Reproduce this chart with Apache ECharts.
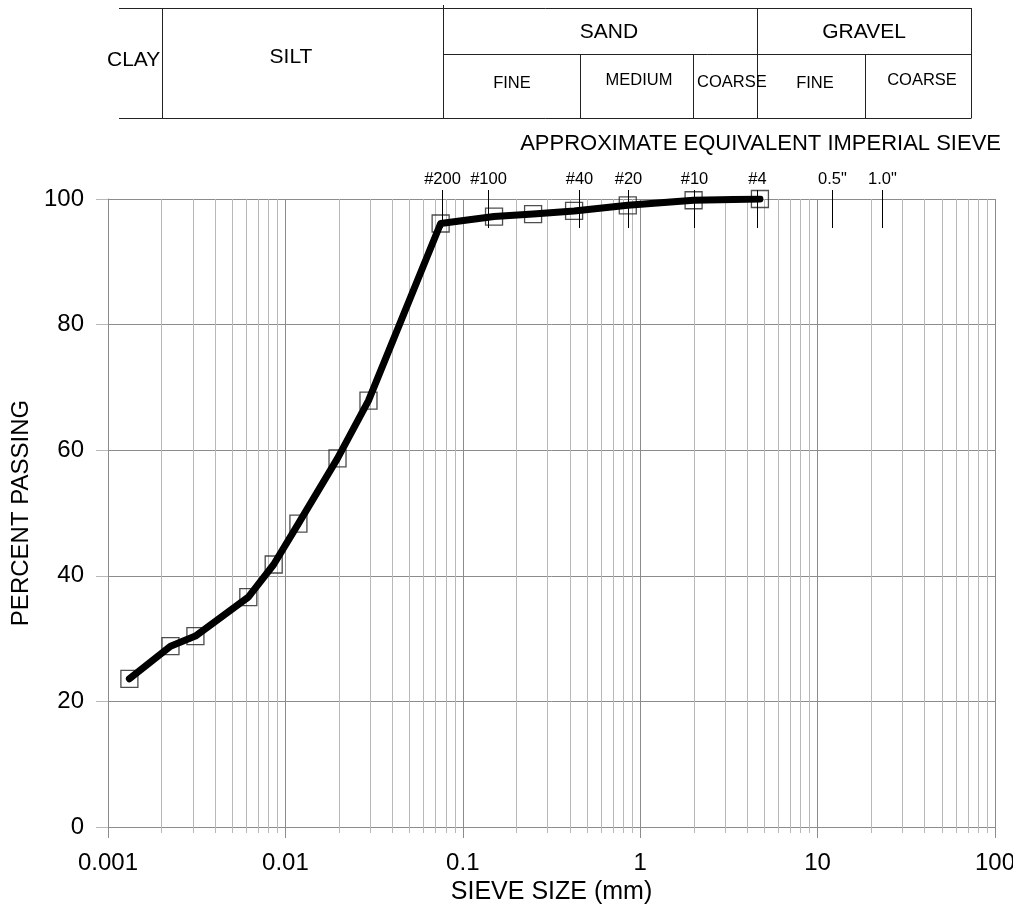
<!DOCTYPE html>
<html>
<head>
<meta charset="utf-8">
<script src="https://cdn.jsdelivr.net/npm/echarts@6/dist/echarts.min.js"></script>
<style>
html, body { margin: 0; padding: 0; background: #fff; }
#chart { width: 1013px; height: 909px; }
</style>
</head>
<body>
<div id="chart"></div>
<script>
// gradation data
const sieveSizeMm = [0.00132, 0.00225, 0.00311, 0.00618, 0.00859, 0.01184, 0.01967, 0.0294,
    0.075, 0.15, 0.249, 0.424, 0.851, 2.0, 4.73];
const percentPassing = [23.6, 28.8, 30.4, 36.6, 41.8, 48.3, 58.7, 67.9,
    96.1, 97.2, 97.6, 98.1, 99.0, 99.8, 100];

// imperial sieve marks along the top
const sieveMarkSizes = [0.076, 0.138, 0.454, 0.857, 2.0, 4.54, 12.0, 23.0];
const sieveMarkLabels = ['#200', '#100', '#40', '#20', '#10', '#4', '0.5"', '1.0"'];

const xTickLabels = ['0.001', '0.01', '0.1', '1', '10', '100'];
const decades = [0.001, 0.01, 0.1, 1, 10];
const minorMultiples = [2, 3, 4, 5, 6, 7, 8, 9];

const FONT = '"Liberation Sans", Arial, sans-serif';
const MAJOR = '#8c8c8c';
const MINOR = '#b8b8b8';

const minorValues = [];
decades.forEach(d => minorMultiples.forEach(m => minorValues.push(m * d)));

function crisp(v) { return Math.round(v) + 0.5; }

function hline(x1, x2, y) {
    return { type: 'line', shape: { x1: x1, y1: y, x2: x2, y2: y }, style: { stroke: '#222', lineWidth: 1 }, silent: true };
}
function vline(x, y1, y2) {
    return { type: 'line', shape: { x1: x, y1: y1, x2: x, y2: y2 }, style: { stroke: '#222', lineWidth: 1 }, silent: true };
}
function label(text, x, y, size, align) {
    return {
        type: 'text', x: x, y: y, silent: true,
        style: { text: text, fill: '#000', font: size + 'px ' + FONT, align: align || 'center', verticalAlign: 'middle' }
    };
}

const chart = echarts.init(document.getElementById('chart'));

chart.setOption({
    animation: false,
    grid: { left: 108, right: 18, top: 199, bottom: 82, outerBoundsMode: 'none' },
    xAxis: {
        type: 'log',
        logBase: 10,
        min: 0.001,
        max: 100,
        axisLine: { show: true, onZero: false, lineStyle: { color: MAJOR } },
        axisTick: { show: true, length: 11, lineStyle: { color: MAJOR } },
        splitLine: { show: true, lineStyle: { color: MAJOR } },
        axisLabel: {
            margin: 24, fontSize: 24, color: '#000', fontFamily: FONT,
            formatter: v => xTickLabels[Math.round(Math.log10(v)) + 3]
        },
        name: 'SIEVE SIZE (mm)',
        nameLocation: 'middle',
        nameGap: 50,
        nameTextStyle: { fontSize: 25, color: '#000', fontFamily: FONT }
    },
    yAxis: {
        type: 'value',
        min: 0,
        max: 100,
        interval: 20,
        axisLine: { show: true, lineStyle: { color: MAJOR } },
        axisTick: { show: true, length: 12, lineStyle: { color: MINOR } },
        splitLine: { show: true, lineStyle: { color: MAJOR } },
        axisLabel: { margin: 24, fontSize: 24, color: '#000', fontFamily: FONT },
        name: 'PERCENT PASSING',
        nameLocation: 'middle',
        nameRotate: 90,
        nameGap: 64,
        nameTextStyle: { fontSize: 24, color: '#000', fontFamily: FONT }
    },
    graphic: [
        hline(119, 971.5, 8.5),
        hline(119, 971.5, 118.5),
        hline(443, 971.5, 54.5),
        vline(162.5, 8, 118),
        vline(443.5, 5, 118),
        vline(580.5, 54, 118),
        vline(693.5, 54, 118),
        vline(757.5, 8, 118),
        vline(865.5, 54, 118),
        vline(971.5, 8, 118),
        label('CLAY', 107, 60, 21, 'left'),
        label('SILT', 291, 57, 21),
        label('SAND', 609, 32, 21),
        label('GRAVEL', 864, 32, 21),
        label('FINE', 512, 83, 16.5),
        label('MEDIUM', 639, 80, 16.5),
        label('COARSE', 697, 82, 16.5, 'left'),
        label('FINE', 815, 83, 16.5),
        label('COARSE', 922, 80, 16.5),
        label('APPROXIMATE EQUIVALENT IMPERIAL SIEVE', 1001, 144, 22, 'right')
    ],
    series: [
        {
            name: 'minor grid',
            type: 'custom',
            silent: true,
            clip: false,
            z: 1,
            data: minorValues.map(v => [v, 0]),
            renderItem: function (params, api) {
                const top = api.coord([api.value(0), 100]);
                const bottom = api.coord([api.value(0), 0]);
                const x = crisp(top[0]);
                return {
                    type: 'line',
                    shape: { x1: x, y1: top[1], x2: x, y2: bottom[1] + 6 },
                    style: { stroke: MINOR, lineWidth: 1 }
                };
            }
        },
        {
            name: 'test points',
            type: 'scatter',
            symbol: 'rect',
            symbolSize: 17,
            silent: true,
            z: 3,
            itemStyle: { color: 'rgba(0,0,0,0)', borderColor: '#222', borderWidth: 1.3 },
            data: sieveSizeMm.map((s, i) => [s, percentPassing[i]])
        },
        {
            name: 'gradation',
            type: 'line',
            showSymbol: false,
            silent: true,
            z: 4,
            lineStyle: { color: '#000', width: 7, cap: 'round', join: 'round' },
            data: sieveSizeMm.map((s, i) => [s, percentPassing[i]])
        },
        {
            name: 'sieves',
            type: 'custom',
            silent: true,
            clip: false,
            z: 5,
            data: sieveMarkSizes.map(s => [s, 100]),
            renderItem: function (params, api) {
                const p = api.coord([api.value(0), 100]);
                const x = crisp(p[0]);
                return {
                    type: 'group',
                    children: [
                        { type: 'line', shape: { x1: x, y1: p[1] - 9, x2: x, y2: p[1] + 29 }, style: { stroke: '#000', lineWidth: 1 } },
                        {
                            type: 'text', x: x, y: p[1] - 11,
                            style: {
                                text: sieveMarkLabels[params.dataIndex], fill: '#000',
                                font: '16.5px ' + FONT, align: 'center', verticalAlign: 'bottom'
                            }
                        }
                    ]
                };
            }
        }
    ]
});
</script>
</body>
</html>
